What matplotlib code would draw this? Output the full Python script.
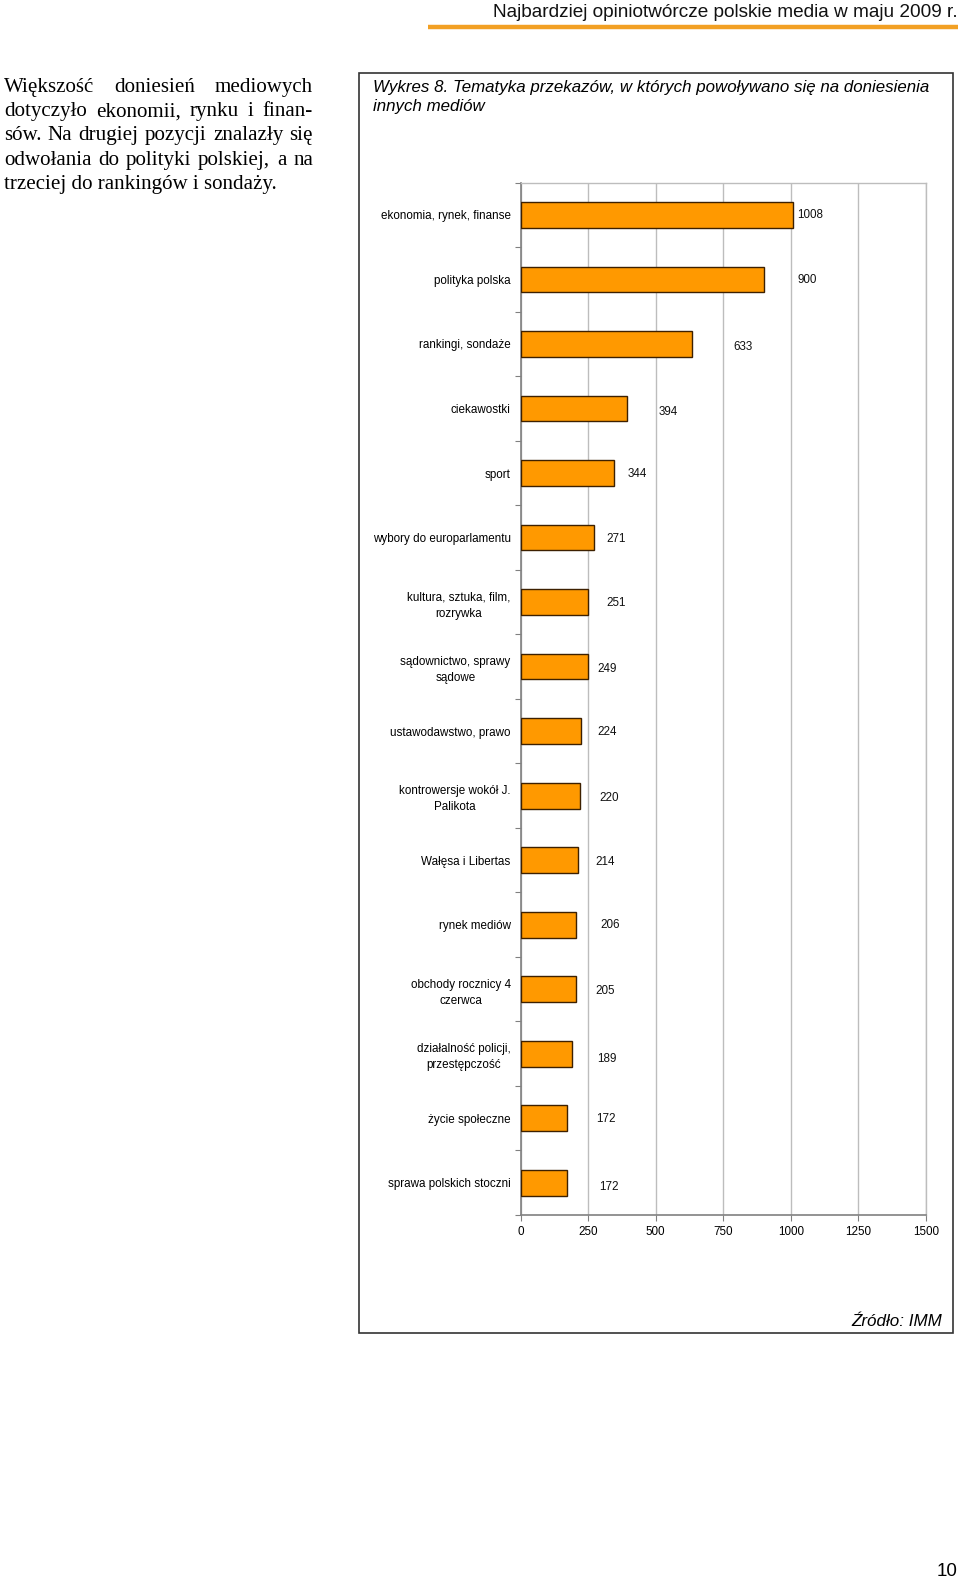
import matplotlib
matplotlib.use("Agg")
import matplotlib.pyplot as plt
from matplotlib.patches import Rectangle
from matplotlib.lines import Line2D

# ---------------- data ----------------
categories = [
    "ekonomia, rynek, finanse",
    "polityka polska",
    "rankingi, sondaże",
    "ciekawostki",
    "sport",
    "wybory do europarlamentu",
    "kultura, sztuka, film,\nrozrywka",
    "sądownictwo, sprawy\nsądowe",
    "ustawodawstwo, prawo",
    "kontrowersje wokół J.\nPalikota",
    "Wałęsa i Libertas",
    "rynek mediów",
    "obchody rocznicy 4\nczerwca",
    "działalność policji,\nprzestępczość",
    "życie społeczne",
    "sprawa polskich stoczni",
]
values = [1008, 900, 633, 394, 344, 271, 251, 249, 224, 220, 214, 206, 205, 189, 172, 172]
x_ticks = [0, 250, 500, 750, 1000, 1250, 1500]

# label placement (as in the original, in data units / pixel shifts)
label_x = [1024, 1027, 789, 510, 395, 316, 316, 283, 283, 290, 275, 294, 275, 283, 279, 290]
label_dy = [0, 1, 3, 3, 1, 1, 1, 2, 1, 2, 2, 0, 2, 5, 1, 4]

header = "Najbardziej opiniotwórcze polskie media w maju 2009 r."
body_lines = [
    "Większość doniesień mediowych",
    "dotyczyło ekonomii, rynku i finan-",
    "sów. Na drugiej pozycji znalazły się",
    "odwołania do polityki polskiej, a na",
    "trzeciej do rankingów i sondaży.",
]
title_lines = ["Wykres 8. Tematyka przekazów, w których powoływano się na doniesienia",
               "innych mediów"]
source = "Źródło: IMM"
page_no = "10"

# ---------------- figure ----------------
W, H = 960, 1579
fig = plt.figure(figsize=(W / 100, H / 100), dpi=100)
fig.patch.set_facecolor("white")
renderer = fig.canvas.get_renderer()


def fx(x):
    return x / W


def fy(y):
    return 1 - y / H


def twidth(s, **kw):
    t = fig.text(0, 0, s, **kw)
    w = t.get_window_extent(renderer).width
    t.remove()
    return w


def fit_size(s, target, **kw):
    w = twidth(s, fontsize=10, **kw)
    return 10 * target / w


SANS = "Liberation Sans"
SERIF = "Liberation Serif"

# header
hs = fit_size(header, 469, family=SANS)
fig.text(fx(958), fy(17), header, family=SANS, fontsize=hs, ha="right", va="baseline", color="#111111")
fig.add_artist(Line2D([fx(428), fx(958)], [fy(27), fy(27)], color="#F2A024", lw=3.2,
                      transform=fig.transFigure, solid_capstyle="butt"))

# justified body text
bs = fit_size(body_lines[-1], 272, family=SERIF)
x0, x1 = 4, 313
for i, line in enumerate(body_lines):
    yb = 92.0 + i * 24.2
    words = line.split()
    if i == len(body_lines) - 1:
        fig.text(fx(x0), fy(yb), line, family=SERIF, fontsize=bs, va="baseline", ha="left")
        continue
    widths = [twidth(w_, family=SERIF, fontsize=bs) for w_ in words]
    gap = (x1 - x0 - sum(widths)) / (len(words) - 1)
    x = x0
    for w_, wd in zip(words, widths):
        fig.text(fx(x), fy(yb), w_, family=SERIF, fontsize=bs, va="baseline", ha="left")
        x += wd + gap

# chart box
fig.add_artist(Rectangle((fx(359.3), fy(1333)), fx(953.3) - fx(359.3), fy(73.3) - fy(1333),
                         transform=fig.transFigure, fill=False, edgecolor="#333333", lw=1.2))

# chart title
ts = fit_size(title_lines[0], 556, family=SANS, style="italic")
fig.text(fx(373), fy(92), title_lines[0], family=SANS, style="italic", fontsize=ts, va="baseline")
fig.text(fx(373), fy(111), title_lines[1], family=SANS, style="italic", fontsize=ts, va="baseline")

# axes
L, R, T, B = 520.7, 925.7, 182.7, 1215
ax = fig.add_axes([fx(L), fy(B), fx(R) - fx(L), fy(T) - fy(B)])
n = len(categories)
pos = list(range(n))
ax.barh(pos, values, height=0.4, color="#FF9900", edgecolor="#3d2000", linewidth=1.0, zorder=3)
ax.set_xlim(0, 1500)
ax.set_ylim(n - 0.5, -0.5)

ls = fit_size("ekonomia, rynek, finanse", 130, family=SANS)

ax.set_xticks(x_ticks)
ax.set_xticklabels([str(v) for v in x_ticks], family=SANS, fontsize=ls)
ax.tick_params(axis="x", direction="out", length=4, color="#808080", pad=4)
ax.set_yticks([p - 0.5 for p in pos] + [n - 0.5])
ax.set_yticklabels([])
ax.tick_params(axis="y", which="major", direction="out", length=4, color="#808080")
ax.set_yticks(pos, minor=True)
ax.set_yticklabels(categories, minor=True, family=SANS, fontsize=ls)
ax.tick_params(axis="y", which="minor", length=0, pad=7.2)
for lbl in ax.get_yticklabels(minor=True):
    lbl.set_multialignment("center")
    lbl.set_linespacing(1.45)

ax.grid(axis="x", color="#bdbdbd", lw=1.0, zorder=0)
for s in ["top", "right"]:
    ax.spines[s].set_color("#bdbdbd")
    ax.spines[s].set_linewidth(1.0)
for s in ["left", "bottom"]:
    ax.spines[s].set_color("#808080")
    ax.spines[s].set_linewidth(1.2)

for p, lx, dy, v in zip(pos, label_x, label_dy, values):
    ax.annotate(str(v), (lx, p), xytext=(0, -dy), textcoords="offset pixels",
                ha="left", va="center", family=SANS, fontsize=ls, color="#111111")

# source
ss = fit_size(source, 91, family=SANS, style="italic")
fig.text(fx(942), fy(1326), source, family=SANS, style="italic", fontsize=ss, ha="right", va="baseline")

# page number
fig.text(fx(958), fy(1576), page_no, family=SANS, fontsize=13.5, ha="right", va="baseline")

fig.savefig("out.png", dpi=100, facecolor="white")
